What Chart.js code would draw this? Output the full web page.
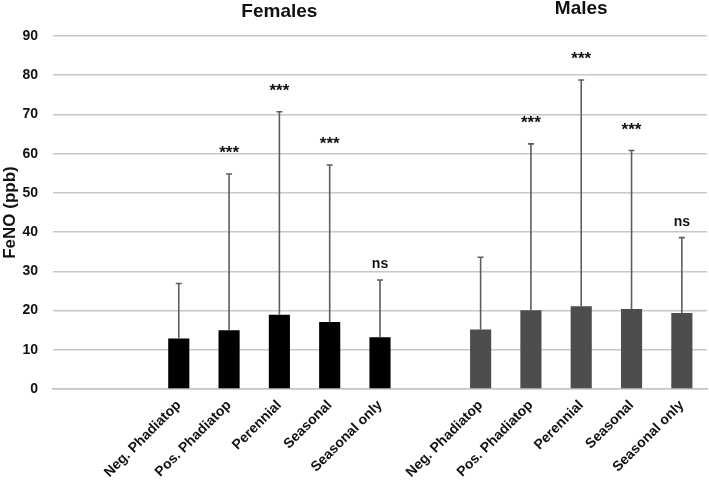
<!DOCTYPE html>
<html>
<head>
<meta charset="utf-8">
<script src="https://cdn.jsdelivr.net/npm/chart.js@4.4.0/dist/chart.umd.min.js"></script>
<style>
  html, body { margin: 0; padding: 0; background: #fff; }
  #wrap { width: 709px; height: 484px; }
</style>
</head>
<body>
<div id="wrap"><canvas id="graph"></canvas></div>
<script>
// categories for each group
var categories = ['Neg. Phadiatop', 'Pos. Phadiatop', 'Perennial', 'Seasonal', 'Seasonal only'];
var group_names = ['Females', 'Males'];

// mean FeNO (ppb) and upper error bar end
var female_means = [12.9, 15.0, 18.9, 17.1, 13.2];
var female_upper = [26.9, 54.8, 70.7, 57.1, 27.8];
var male_means = [15.2, 20.1, 21.1, 20.4, 19.4];
var male_upper = [33.6, 62.5, 78.8, 60.8, 38.6];

// significance marks above the error bars
var female_sig = ['', '***', '***', '***', 'ns'];
var male_sig = ['', '***', '***', '***', 'ns'];

var y_ticks = [0, 10, 20, 30, 40, 50, 60, 70, 80, 90];

// 13 slots: 2 empty, females, 1 empty, males
var labels = ['', ''].concat(categories, [''], categories);
var female_data = [null, null].concat(female_means, [null], [null, null, null, null, null]);
var male_data = [null, null].concat([null, null, null, null, null], [null], male_means);
var female_err = [null, null].concat(female_upper, [null], [null, null, null, null, null]);
var male_err = [null, null].concat([null, null, null, null, null], [null], male_upper);
var female_marks = ['', ''].concat(female_sig, [''], ['', '', '', '', '']);
var male_marks = ['', ''].concat(['', '', '', '', ''], [''], male_sig);

var errorBars = {
    id: 'errorBars',
    afterDatasetsDraw: function(chart){
        var ctx = chart.ctx;
        var y = chart.scales.y;
        var errs = [female_err, male_err];
        var marks = [female_marks, male_marks];
        ctx.save();
        for (var d = 0; d < 2; d++){
            var meta = chart.getDatasetMeta(d);
            meta.data.forEach(function(bar, i){
                var top = errs[d][i];
                if (top == null) return;
                var x = bar.x;
                var yTop = y.getPixelForValue(top);
                ctx.strokeStyle = '#5e5e5e';
                ctx.lineWidth = 1.6;
                ctx.beginPath();
                ctx.moveTo(x, bar.y);
                ctx.lineTo(x, yTop);
                ctx.moveTo(x - 3, yTop);
                ctx.lineTo(x + 3, yTop);
                ctx.stroke();
                var m = marks[d][i];
                if (m){
                    ctx.fillStyle = '#111';
                    ctx.textAlign = 'center';
                    ctx.textBaseline = 'alphabetic';
                    if (m == 'ns'){
                        ctx.font = 'bold 14px "Liberation Sans", Arial, sans-serif';
                        ctx.fillText(m, x, yTop - 12);
                    } else {
                        ctx.font = 'bold 17px "Liberation Sans", Arial, sans-serif';
                        ctx.fillText(m, x, yTop - 16);
                    }
                }
            });
        }
        // group titles centered over each group
        var xs = chart.scales.x;
        var centers = [xs.getPixelForValue(4), xs.getPixelForValue(10)];
        ctx.fillStyle = '#111';
        ctx.font = 'bold 19px "Liberation Sans", Arial, sans-serif';
        ctx.textAlign = 'center';
        ctx.textBaseline = 'middle';
        ctx.fillText(group_names[0], centers[0], 12);
        ctx.fillText(group_names[1], centers[1], 9);
        ctx.restore();
    }
};

var chart_context = document.getElementById('graph').getContext('2d');
var chart = new Chart(chart_context, {
    type: 'bar',
    data: {
        labels: labels,
        datasets: [{
            label: group_names[0],
            backgroundColor: '#000000',
            data: female_data,
            grouped: false,
            barPercentage: 0.42,
            categoryPercentage: 1
        }, {
            label: group_names[1],
            backgroundColor: '#4d4d4d',
            data: male_data,
            grouped: false,
            barPercentage: 0.42,
            categoryPercentage: 1
        }]
    },
    options: {
        responsive: true,
        maintainAspectRatio: false,
        animation: false,
        layout: { padding: { top: 36, right: 2, left: 0, bottom: 0 } },
        plugins: {
            legend: { display: false },
            tooltip: { enabled: false }
        },
        scales: {
            x: {
                grid: { display: false, drawTicks: false },
                border: { color: '#c4c4c4', width: 1.5 },
                ticks: {
                    color: '#111',
                    font: { family: '"Liberation Sans", Arial, sans-serif', size: 14, weight: 'bold' },
                    minRotation: 45,
                    maxRotation: 45,
                    autoSkip: false,
                    padding: 8
                },
                afterFit: function(scale){ scale.height = 95; }
            },
            y: {
                min: 0,
                max: 90,
                afterBuildTicks: function(scale){
                    scale.ticks = y_ticks.map(function(v){ return { value: v }; });
                },
                grid: { color: '#c8c8c8', lineWidth: 1.5, drawTicks: false },
                border: { display: false },
                ticks: {
                    color: '#111',
                    font: { family: '"Liberation Sans", Arial, sans-serif', size: 14, weight: 'bold' },
                    padding: 15
                },
                title: {
                    display: true,
                    text: 'FeNO (ppb)',
                    color: '#111',
                    font: { family: '"Liberation Sans", Arial, sans-serif', size: 17, weight: 'bold' },
                    padding: 0
                },
                afterFit: function(scale){ scale.width = 53; }
            }
        }
    },
    plugins: [errorBars]
});
</script>
</body>
</html>
